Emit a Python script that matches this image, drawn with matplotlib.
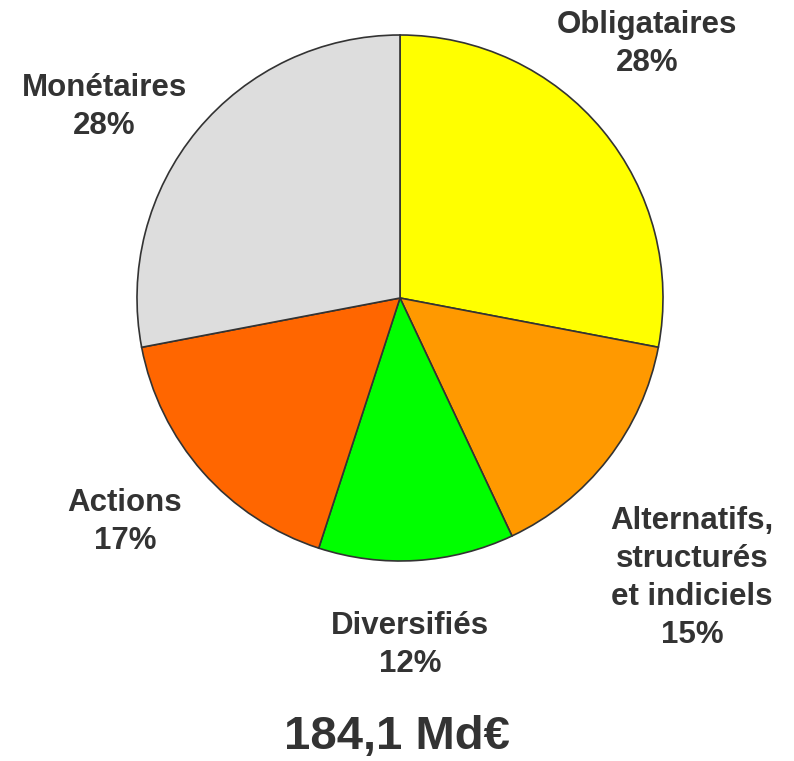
import matplotlib
matplotlib.use('Agg')
import matplotlib.pyplot as plt
import numpy as np

categories = ['Obligataires', 'Alternatifs,\nstructurés\net indiciels', 'Diversifiés', 'Actions', 'Monétaires']
shares = [28, 15, 12, 17, 28]
colors = ['#FFFF00', '#FF9900', '#00FF00', '#FF6600', '#DDDDDD']
total_label = '184,1 Md€'

# label positions, in pie radius units
label_pos = [(0.94, 0.965), (1.11, -1.065), (0.038, -1.32), (-1.046, -0.852), (-1.125, 0.726)]

plt.rcParams['font.family'] = ['Liberation Sans', 'DejaVu Sans']

fig = plt.figure(figsize=(7.94, 7.61), dpi=100)
ax = fig.add_axes([0, 0, 1, 1])

ax.pie(shares, colors=colors, startangle=90, counterclock=False,
       wedgeprops={'edgecolor': '#333333', 'linewidth': 1.2})

for name, val, (x, y) in zip(categories, shares, label_pos):
    ax.text(x, y, '%s\n%d%%' % (name, val), ha='center', va='center',
            fontsize=22.5, fontweight='bold', color='#333333', linespacing=1.35)

ax.text(-0.01, -1.67, total_label, ha='center', va='center',
        fontsize=34, fontweight='bold', color='#333333')

r = 263.0
ax.set_xlim(-400 / r, 394 / r)
ax.set_ylim(-(761 - 298) / r, 298 / r)
ax.set_aspect('equal')
ax.axis('off')

fig.savefig('out.png', dpi=100)
